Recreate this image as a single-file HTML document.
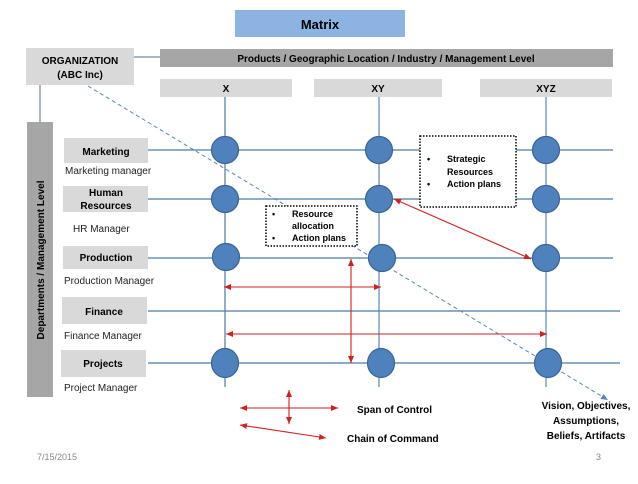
<!DOCTYPE html>
<html><head><style>
body{margin:0;background:#fff;}
svg text{font-family:"Liberation Sans",sans-serif;}
</style></head><body>
<svg width="638" height="479" viewBox="0 0 638 479" xmlns="http://www.w3.org/2000/svg">
<defs>
<marker id="ar" markerWidth="8" markerHeight="8" refX="7" refY="4" orient="auto-start-reverse" markerUnits="userSpaceOnUse"><path d="M0,1 L7,4 L0,7 z" fill="#d02020"/></marker>
<marker id="ab" markerWidth="8" markerHeight="8" refX="7" refY="4" orient="auto" markerUnits="userSpaceOnUse"><path d="M0,1 L7,4 L0,7 z" fill="#5a86b8"/></marker>
</defs>
<!-- title -->
<rect x="235" y="10" width="170" height="27" fill="#8db3e2"/>
<text x="320" y="29" font-size="13" font-weight="bold" text-anchor="middle" fill="#000">Matrix</text>
<!-- org -->
<line x1="134" y1="57" x2="160" y2="57" stroke="#4a7090" stroke-width="1"/>
<line x1="40" y1="85" x2="40" y2="122" stroke="#4a7090" stroke-width="1"/>
<rect x="26" y="48" width="108" height="37" fill="#d9d9d9"/>
<text x="80" y="64" font-size="10" font-weight="bold" text-anchor="middle">ORGANIZATION</text>
<text x="80" y="78" font-size="10" font-weight="bold" text-anchor="middle">(ABC  Inc)</text>
<rect x="160" y="49" width="453" height="18" fill="#a6a6a6"/>
<text x="386" y="62" font-size="10" font-weight="bold" text-anchor="middle">Products /  Geographic Location / Industry / Management Level</text>
<rect x="160" y="79" width="132" height="18" fill="#d9d9d9"/>
<text x="226" y="92" font-size="10" font-weight="bold" text-anchor="middle">X</text>
<rect x="314" y="79" width="128" height="18" fill="#d9d9d9"/>
<text x="378" y="92" font-size="10" font-weight="bold" text-anchor="middle">XY</text>
<rect x="480" y="79" width="132" height="18" fill="#d9d9d9"/>
<text x="546" y="92" font-size="10" font-weight="bold" text-anchor="middle">XYZ</text>
<!-- side bar -->
<rect x="27" y="122" width="26" height="275" fill="#a6a6a6"/>
<text transform="translate(44,260) rotate(-90)" font-size="10" font-weight="bold" text-anchor="middle">Departments / Management Level</text>
<!-- verticals -->
<g stroke="#4a7aa6" stroke-width="1.2">
<line x1="225" y1="97" x2="225" y2="387"/>
<line x1="379" y1="97" x2="379" y2="387" stroke="#9bb8d6" stroke-width="2"/>
<line x1="546" y1="97" x2="546" y2="387" stroke="#9bb8d6" stroke-width="2"/>
<!-- horizontals -->
<line x1="148" y1="150" x2="613" y2="150"/>
<line x1="148" y1="199" x2="613" y2="199"/>
<line x1="148" y1="258" x2="613" y2="258"/>
<line x1="148" y1="311" x2="620" y2="311"/>
<line x1="148" y1="363" x2="620" y2="363"/>
</g>
<!-- dept boxes -->
<g fill="#d9d9d9">
<rect x="64" y="138" width="84" height="25"/>
<rect x="63" y="186" width="85" height="26"/>
<rect x="63" y="246" width="85" height="23"/>
<rect x="62" y="297" width="85" height="27"/>
<rect x="61" y="350" width="85" height="27"/>
</g>
<g font-size="10" font-weight="bold" text-anchor="middle">
<text x="106" y="155">Marketing</text>
<text x="106" y="196">Human</text>
<text x="106" y="209">Resources</text>
<text x="106" y="261">Production</text>
<text x="104" y="315">Finance</text>
<text x="103" y="367">Projects</text>
</g>
<g font-size="10" fill="#222">
<text x="65" y="174">Marketing manager</text>
<text x="73" y="232">HR Manager</text>
<text x="64" y="284">Production Manager</text>
<text x="64" y="339">Finance  Manager</text>
<text x="64" y="391">Project  Manager</text>
</g>
<!-- dashed diagonal -->
<line x1="88" y1="86" x2="608" y2="400" stroke="#5a86b8" stroke-width="1" stroke-dasharray="4,3" marker-end="url(#ab)"/>
<!-- circles -->
<g fill="#4f81bd" stroke="#3a6494" stroke-width="1.2">
<circle cx="225" cy="150" r="13.5"/><circle cx="379" cy="150" r="13.5"/><circle cx="546" cy="150" r="13.5"/>
<circle cx="225" cy="199" r="13.5"/><circle cx="379" cy="199" r="13.5"/><circle cx="546" cy="199" r="13.5"/>
<circle cx="226" cy="257" r="13.5"/><circle cx="382" cy="258" r="13.5"/><circle cx="546" cy="258" r="13.5"/>
<ellipse cx="225" cy="363" rx="13.5" ry="14.5"/><ellipse cx="381" cy="363" rx="13.5" ry="14.5"/><ellipse cx="548" cy="363" rx="13.5" ry="14.5"/>
</g>
<!-- dotted boxes -->
<rect x="266" y="206" width="91" height="40" fill="#fff" stroke="#000" stroke-width="1.5" stroke-dasharray="1.5,1.5"/>
<g font-size="9" font-weight="bold">
<text x="272" y="217">•</text><text x="292" y="217">Resource</text>
<text x="292" y="229">allocation</text>
<text x="272" y="241">•</text><text x="292" y="241">Action plans</text>
</g>
<rect x="420" y="136" width="96" height="71" fill="#fff" stroke="#000" stroke-width="1.5" stroke-dasharray="1.5,1.5"/>
<g font-size="9" font-weight="bold">
<text x="427" y="162">•</text><text x="447" y="162">Strategic</text>
<text x="447" y="175">Resources</text>
<text x="427" y="187">•</text><text x="447" y="187">Action plans</text>
</g>
<!-- red arrows -->
<g stroke="#d02020" stroke-width="1.1" fill="none">
<line x1="394" y1="199" x2="531" y2="259" marker-start="url(#ar)" marker-end="url(#ar)"/>
<line x1="224" y1="287" x2="381" y2="287" marker-start="url(#ar)" marker-end="url(#ar)"/>
<line x1="226" y1="334" x2="547" y2="334" marker-start="url(#ar)" marker-end="url(#ar)"/>
<line x1="351" y1="259" x2="351" y2="363" marker-start="url(#ar)" marker-end="url(#ar)"/>
<line x1="240" y1="408" x2="338" y2="408" marker-start="url(#ar)" marker-end="url(#ar)"/>
<line x1="289" y1="390" x2="289" y2="424" marker-start="url(#ar)" marker-end="url(#ar)"/>
<line x1="240" y1="425" x2="326" y2="438" marker-start="url(#ar)" marker-end="url(#ar)"/>
</g>
<g font-size="10" font-weight="bold">
<text x="357" y="413">Span of Control</text>
<text x="347" y="442">Chain of Command</text>
</g>
<g font-size="10" font-weight="bold" text-anchor="middle">
<text x="586" y="409">Vision, Objectives,</text>
<text x="586" y="424">Assumptions,</text>
<text x="586" y="439">Beliefs, Artifacts</text>
</g>
<text x="37" y="460" font-size="9" fill="#888">7/15/2015</text>
<text x="596" y="460" font-size="9" fill="#888">3</text>
</svg>
</body></html>
